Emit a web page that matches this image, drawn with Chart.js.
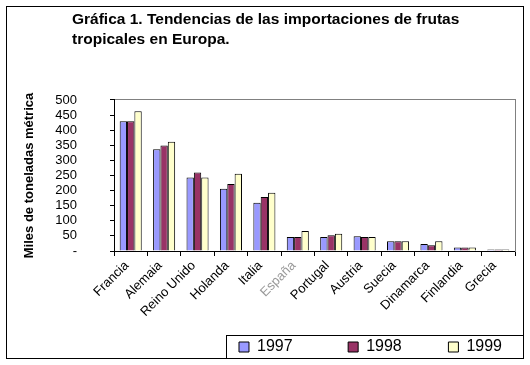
<!DOCTYPE html>
<html>
<head>
<meta charset="utf-8">
<script src="https://cdn.jsdelivr.net/npm/chart.js@4.4.1/dist/chart.umd.min.js"></script>
<style>
  body { margin: 0; background: #fff; }
</style>
</head>
<body>
<canvas id="myChart" width="530" height="365"></canvas>
<script>
const paises = ['Francia', 'Alemaia', 'Reino Unido', 'Holanda', 'Italia', 'España',
  'Portugal', 'Austria', 'Suecia', 'Dinamarca', 'Finlandia', 'Grecia'];
const anios = ['1997', '1998', '1999'];
const datos1997 = [430, 337, 243, 206, 160, 46, 46, 49, 32, 23, 12, 5];
const datos1998 = [430, 349, 260, 222, 179, 46, 52, 46, 32, 19, 12, 5];
const datos1999 = [463, 362, 243, 256, 193, 66, 57, 46, 32, 32, 12, 5];
const colores = ['#9999ff', '#993366', '#ffffcc'];

Chart.defaults.font.family = "'Liberation Sans', Arial, sans-serif";
Chart.defaults.color = '#000';

// marco exterior y recuadro de la leyenda
const marco = {
  id: 'marco',
  beforeDraw(chart) {
    // titulo alineado a la izquierda como en el original
    chart.titleBlock.left = 72;
  },
  afterDraw(chart) {
    const ctx = chart.ctx;
    ctx.save();
    ctx.strokeStyle = '#000';
    ctx.lineWidth = 1;
    ctx.strokeRect(6.5, 6.5, 517, 352);
    const hb = chart.legend.legendHitBoxes[0];
    const left = Math.round(hb.left - 13) + 0.5;
    const top = Math.round(hb.top + hb.height / 2 - 12) + 0.5;
    ctx.strokeRect(left, top, 523.5 - left, 358.5 - top);
    ctx.restore();
  }
};

const configureData = () => {
  const series = [datos1997, datos1998, datos1999];
  return {
    labels: paises,
    datasets: anios.map((a, i) => ({
      label: a,
      data: series[i],
      backgroundColor: colores[i],
      borderColor: '#000',
      borderWidth: 1,
      barPercentage: 1,
      categoryPercentage: 0.66
    }))
  };
};

const configureChart = (data) => {
  return {
    type: 'bar',
    data: data,
    plugins: [marco],
    options: {
      responsive: false,
      animation: false,
      layout: { padding: { top: 0, left: 10, right: 8, bottom: 0 } },
      plugins: {
        title: {
          display: true,
          align: 'start',
          text: ['Gráfica 1. Tendencias de las importaciones de frutas', 'tropicales en Europa.'],
          color: '#000',
          font: { size: 15.5, weight: 'bold', lineHeight: 1.29 },
          padding: { top: 10, bottom: 0 }
        },
        legend: {
          position: 'bottom',
          align: 'end',
          labels: {
            boxWidth: 10, boxHeight: 10, padding: 20, color: '#000', font: { size: 16 },
            // separacion amplia entre elementos, como en el original
            generateLabels: (chart) => {
              const items = Chart.defaults.plugins.legend.labels.generateLabels(chart);
              const huecos = [8, 6, 0];
              items.forEach((it, i) => { it.text += ' '.repeat(huecos[i] || 0); });
              return items;
            }
          }
        },
        tooltip: { enabled: false }
      },
      scales: {
        x: {
          grid: { offset: true, drawOnChartArea: false, tickLength: 5, color: '#000' },
          border: { color: '#000' },
          ticks: {
            minRotation: 45, maxRotation: 45, autoSkip: false, padding: 2, labelOffset: -4,
            font: { size: 13 },
            color: (c) => c.index === 5 ? '#9a9a9a' : '#000'
          },
          afterFit: (s) => { s.height = 68; }
        },
        x2: {
          type: 'category',
          position: 'top',
          grid: { display: false },
          ticks: { display: false },
          border: { color: '#808080' },
          afterFit: (s) => { s.height = 50; }
        },
        y: {
          min: 0,
          max: 500,
          ticks: {
            stepSize: 50, autoSkip: false, padding: 33,
            font: { size: 13, lineHeight: 1 },
            color: '#000',
            callback: (v) => v === 0 ? '-' : v
          },
          grid: { drawOnChartArea: false, tickLength: 4, color: '#000' },
          border: { color: '#000' },
          title: {
            display: true,
            text: 'Miles de toneladas métrica',
            color: '#000',
            font: { size: 13, weight: 'bold' },
            padding: { top: 12, bottom: 0 }
          },
          afterFit: (s) => { s.width = 104; }
        },
        y2: {
          type: 'linear',
          position: 'right',
          grid: { display: false },
          ticks: { display: false },
          border: { color: '#808080' },
          afterFit: (s) => { s.width = 7; }
        }
      }
    }
  };
};

const renderChart = () => {
  const ctx = document.getElementById('myChart');
  const myChart = new Chart(ctx, configureChart(configureData()));
};

window.onload = () => {
  renderChart();
};
</script>
</body>
</html>
